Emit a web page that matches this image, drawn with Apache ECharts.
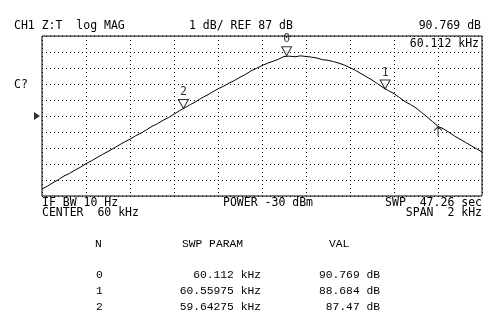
<!DOCTYPE html>
<html><head><meta charset="utf-8">
<script src="https://cdn.jsdelivr.net/npm/echarts@6/dist/echarts.min.js"></script>
<style>html,body{margin:0;padding:0;background:#fff}#c{width:493px;height:323px}</style>
</head><body><div id="c"></div>
<script>
// sweep: 59 kHz .. 61 kHz, 0.025 kHz steps
const freqStart = 59.0;
const freqStep = 0.025;
const traceDb = [
82.44,82.62,82.83,83.03,83.25,83.41,83.62,83.80,84.02,84.20,
84.40,84.60,84.78,84.98,85.18,85.38,85.55,85.76,85.93,86.14,
86.35,86.52,86.73,86.90,87.12,87.33,87.52,87.72,87.90,88.12,
88.30,88.50,88.70,88.86,89.05,89.22,89.42,89.60,89.82,89.98,
90.15,90.30,90.42,90.55,90.72,90.74,90.70,90.76,90.72,90.68,
90.62,90.52,90.48,90.40,90.30,90.18,90.02,89.85,89.65,89.45,
89.25,89.02,88.78,88.58,88.40,88.15,87.90,87.72,87.50,87.22,
86.95,86.65,86.35,86.20,85.98,85.75,85.55,85.35,85.15,84.95,
84.75];
const markerNames = ['0','1','2'];
const markerFreq = [60.112, 60.55975, 59.64275];
const markerVal = [90.769, 88.684, 87.47];
const activeMarkerFreq = [60.80];
const activeMarkerVal = [86.32];
const refLevel = 87;
const header = ['CH1 Z:T  log MAG','1 dB/ REF 87 dB','90.769 dB','60.112 kHz','C?'];
const footer = ['IF BW 10 Hz','CENTER  60 kHz','POWER -30 dBm','SWP  47.26 sec','SPAN  2 kHz'];
const tableHead = ['N','SWP PARAM','VAL'];
const tableFreqText = ['60.112 kHz','60.55975 kHz','59.64275 kHz'];
const tableValText = ['90.769 dB','88.684 dB','87.47 dB'];

const traceData = traceDb.map((v,i)=>[+(freqStart+i*freqStep).toFixed(3), v]);
const mono = '"DejaVu Sans Mono", monospace';
const tfont = '"Liberation Mono", monospace';
const txt = (x,y,s,align,font,size)=>({type:'text',x:x,y:y,style:{text:s,fill:'#000',font:(size||11.5)+'px '+(font||mono),textAlign:align||'left',textVerticalAlign:'middle'}});
const g = [
  txt(14,26,header[0]), txt(189,26,header[1]), txt(481,26,header[2],'right'),
  txt(479,44,header[3],'right'), txt(14,85,header[4]),
  txt(42,203,footer[0]), txt(42,213,footer[1]), txt(223,203,footer[2]),
  txt(482,203,footer[3],'right'), txt(482,213,footer[4],'right'),
  txt(95,244,tableHead[0],'left',tfont,11.3), txt(182,244,tableHead[1],'left',tfont,11.3), txt(329,244,tableHead[2],'left',tfont,11.3)
];
for(let i=0;i<3;i++){
  const y=[275,291,307][i];
  g.push(txt(96,y,markerNames[i],'left',tfont,11.3));
  g.push(txt(261,y,tableFreqText[i],'right',tfont,11.3));
  g.push(txt(380,y,tableValText[i],'right',tfont,11.3));
}
const chart = echarts.init(document.getElementById('c'),null,{renderer:'canvas'});
chart.setOption({
  animation:false,
  grid:{left:42,right:11,top:36,bottom:127,show:true,borderColor:'#000',borderWidth:1,backgroundColor:'transparent'},
  xAxis:{type:'value',min:59,max:61,interval:0.2,axisLabel:{show:false},axisTick:{show:false},axisLine:{show:false},
    splitLine:{show:true,lineStyle:{color:'#000',width:1,type:[1,3]}}},
  yAxis:{type:'value',min:82,max:92,interval:1,axisLabel:{show:false},axisTick:{show:false},axisLine:{show:false},
    splitLine:{show:true,lineStyle:{color:'#000',width:1,type:[1,3]}}},
  graphic:g,
  series:[
    {type:'line',data:traceData,showSymbol:false,lineStyle:{color:'#000',width:1},silent:true},
    {type:'scatter',data:markerFreq.map((f,i)=>({value:[f,markerVal[i]],name:markerNames[i]})),
     symbol:'path://M0,0 L10,0 L5,9 Z',symbolSize:[10,9],symbolOffset:[0,'-50%'],
     itemStyle:{color:'#fff',borderColor:'#000',borderWidth:1},clip:false,
     label:{show:true,position:'top',distance:1,formatter:p=>p.name,color:'#000',fontFamily:mono,fontSize:11.5}},
    {type:'scatter',data:activeMarkerFreq.map((f,i)=>[f,activeMarkerVal[i]]),
     symbol:'path://M5,0 L1,4 M5,0 L9,4 M5,0 L5,10',symbolSize:[8,9],symbolOffset:[0,'50%'],
     itemStyle:{color:'none',borderColor:'#000',borderWidth:1},clip:false},
    {type:'scatter',data:[[59,refLevel]],symbol:'triangle',symbolSize:[8,6],symbolRotate:-90,symbolOffset:[-5,0],
     itemStyle:{color:'#000'},clip:false}
  ]
});
</script></body></html>
